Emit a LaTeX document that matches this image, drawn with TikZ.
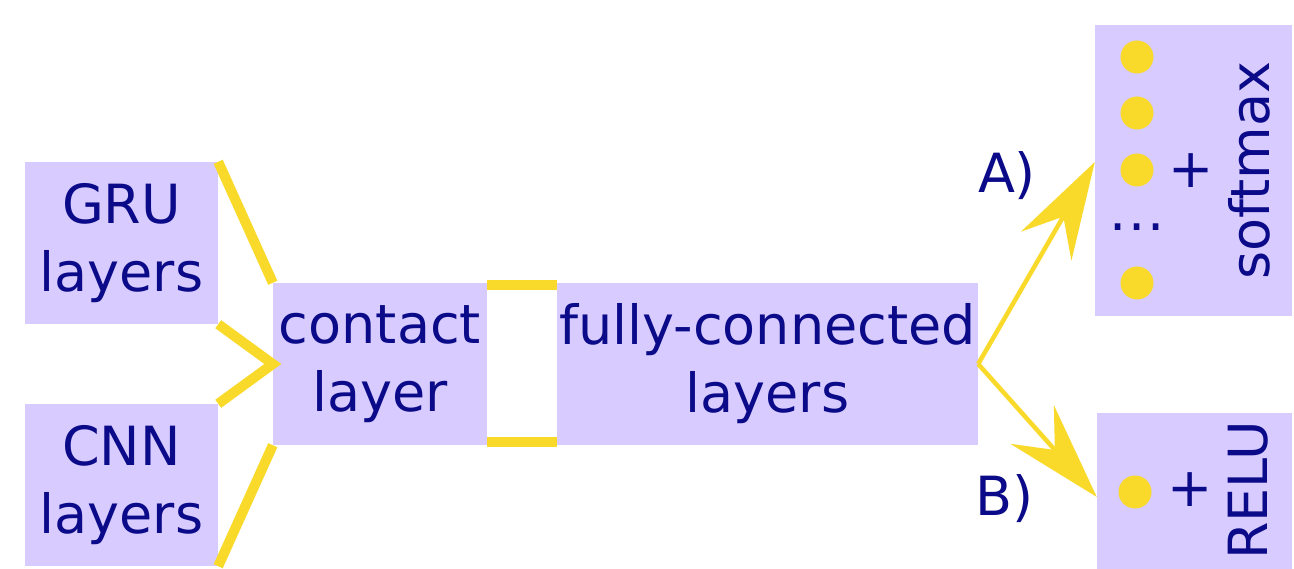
\documentclass[tikz,border=0pt]{standalone}
\usepackage{fontspec}
\setmainfont{DejaVu Sans}
\usetikzlibrary{arrows.meta}
\definecolor{boxfill}{HTML}{D7CBFF}
\definecolor{ink}{HTML}{0B0A88}
\definecolor{gold}{HTML}{F9DA2A}
\begin{document}
\begin{tikzpicture}[x=1pt,y=-1pt,
  box/.style={rectangle, fill=boxfill, inner sep=0pt, text=ink, align=center},
  bigfont/.style={font=\fontsize{54}{68}\selectfont},
  link/.style={draw=gold, line width=10pt},
  arr/.style={draw=gold, line width=4.5pt, -{Stealth[length=97pt,width=58pt,inset=34pt]}},
  yeldot/.style={circle, fill=gold, minimum size=33pt, inner sep=0pt},
  lab/.style={text=ink, font=\fontsize{54}{65}\selectfont, inner sep=0pt}]
\useasboundingbox (0,0) rectangle (1294,569);

% boxes
\node[box, bigfont, minimum width=193pt, minimum height=162pt] (gru) at (121.5,243)
  {GRU\\layers};
\node[box, bigfont, minimum width=193pt, minimum height=162pt] (cnn) at (121.5,485)
  {CNN\\layers};
\node[box, bigfont, minimum width=214pt, minimum height=162pt] (contact) at (380,364)
  {contact\\layer};
\node[box, bigfont, minimum width=421pt, minimum height=162pt] (fc) at (767.5,364)
  {fully-connected\\layers};
\node[box, minimum width=197pt, minimum height=291pt] (sm) at (1193.5,170.5) {};
\node[box, minimum width=195pt, minimum height=156pt] (relu) at (1194.5,491) {};

% softmax box content
\node[yeldot] (d1) at (1137,57) {};
\node[yeldot] (d2) at (1137,113) {};
\node[yeldot] (d3) at (1137,170) {};
\node[yeldot] (d4) at (1137,283) {};
\node[lab, anchor=base] (ell) at (1137,231) {.\kern2pt.\kern2pt.};
\node[lab] (plusA) at (1191,171) {+};
\node[lab, rotate=90, anchor=base] (smtext) at (1269,170.5) {softmax};

% relu box content
\node[yeldot] (d5) at (1135,492) {};
\node[lab] (plusB) at (1190,490) {+};
\node[lab, rotate=90, anchor=base] (relutext) at (1267,490.5) {RELU};

% labels
\node[lab, anchor=base] (labA) at (1007,193) {A)};
\node[lab, anchor=base] (labB) at (1005,515) {B)};

% connectors
\draw[link] (gru.north east) -- (contact.north west);
\draw[link] (gru.south east) -- (contact.west) -- (cnn.north east);
\draw[link] (cnn.south east) -- (contact.south west);
\draw[link] ([yshift=-2.5pt]contact.north east) -- ([yshift=-2.5pt]fc.north west);
\draw[link] ([yshift=3pt]contact.south east) -- ([yshift=3pt]fc.south west);
\draw[arr] (fc.east) -- ([yshift=8.5pt]sm.west);
\draw[arr] (fc.east) -- ([yshift=-6pt]relu.west);
\end{tikzpicture}
\end{document}
